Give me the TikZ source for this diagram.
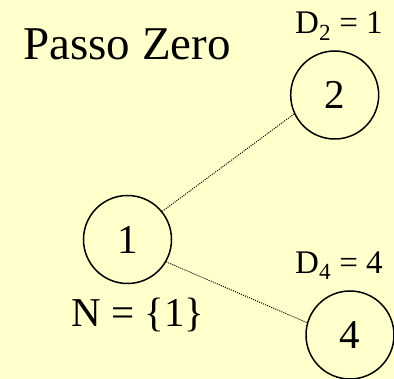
\documentclass[tikz,border=0pt]{standalone}
\usepackage{fontspec}
\setmainfont{Liberation Serif}
\definecolor{bgyellow}{RGB}{255,255,204}
\begin{document}
\begin{tikzpicture}[x=1pt,y=-1pt,
  vertex/.style={circle,draw=black,line width=1.5pt,minimum size=88pt,inner sep=0pt,font=\fontsize{41}{41}\selectfont},
  lbl/.style={anchor=base west,inner sep=0pt},
  link/.style={line width=1pt,dash pattern=on 1pt off 1.2pt}]
\fill[bgyellow] (0,0) rectangle (394,379);
\useasboundingbox (0,0) rectangle (394,379);
\node[lbl,font=\fontsize{47}{47}\selectfont] (title) at (23,60) {Passo Zero};
\node[vertex] (n1) at (127.5,239.5) {1};
\node[vertex] (n2) at (334.7,95) {2};
\node[vertex] (n4) at (350,335) {4};
\node[lbl,font=\fontsize{41}{41}\selectfont] (nset) at (71,327) {N = \{1\}};
\node[lbl,font=\fontsize{33}{33}\selectfont] (d2) at (295,33.3) {D\textsubscript{2} = 1};
\node[lbl,font=\fontsize{33}{33}\selectfont] (d4) at (295,273.3) {D\textsubscript{4} = 4};
\draw[link] (n1.39) -- (n2.205);
\draw[link] (n1.-30) -- (n4.164);
\end{tikzpicture}
\end{document}
